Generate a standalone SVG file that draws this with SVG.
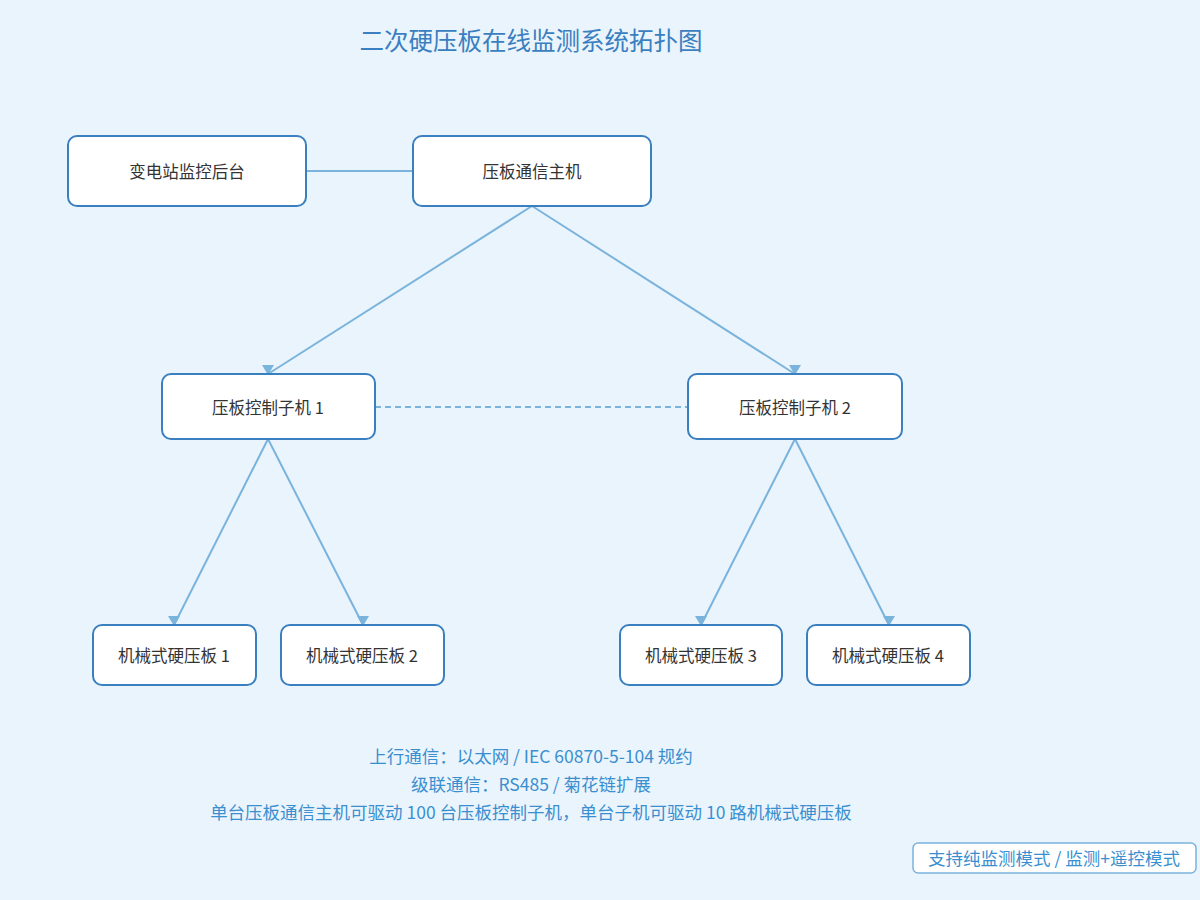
<svg xmlns="http://www.w3.org/2000/svg" width="1200" height="900" viewBox="0 0 1200 900">
<style>
text{font-family:"Noto Sans CJK SC","Liberation Sans",sans-serif;}
.n rect{fill:#fff;stroke:#3a7fc0;stroke-width:2;}
.n text{font-size:16.5px;fill:#333;text-anchor:middle;dominant-baseline:central;}
.e{stroke:#7ab3dc;stroke-width:2;fill:none;}
.note{font-size:17.5px;fill:#3a8fd0;text-anchor:middle;}
</style>
<defs><marker id="m" viewBox="0 0 12 10" refX="6" refY="9" markerWidth="12" markerHeight="10" markerUnits="userSpaceOnUse" orient="0"><path d="M0,0 L12,0 L6,10 Z" fill="#7ab3dc"/></marker></defs>
<rect width="1200" height="900" fill="#eaf4fc"/>
<text x="531" y="50" font-size="24.5" fill="#3a7fc0" text-anchor="middle">二次硬压板在线监测系统拓扑图</text>
<g id="edges">
<line class="e" x1="306" y1="171" x2="413" y2="171"/>
<line class="e" x1="532" y1="206" x2="268" y2="374" marker-end="url(#m)"/>
<line class="e" x1="532" y1="206" x2="795" y2="374" marker-end="url(#m)"/>
<line class="e" x1="375" y1="407" x2="688" y2="407" stroke-dasharray="6,4"/>
<line class="e" x1="268" y1="439" x2="174" y2="625" marker-end="url(#m)"/>
<line class="e" x1="268" y1="439" x2="363" y2="625" marker-end="url(#m)"/>
<line class="e" x1="795" y1="439" x2="701" y2="625" marker-end="url(#m)"/>
<line class="e" x1="795" y1="439" x2="889" y2="625" marker-end="url(#m)"/>
</g>
<g id="n1" class="n"><rect x="68" y="136" width="238" height="70" rx="9"/><text x="187" y="171">变电站监控后台</text></g>
<g id="n2" class="n"><rect x="413" y="136" width="238" height="70" rx="9"/><text x="532" y="171">压板通信主机</text></g>
<g id="n3" class="n"><rect x="162" y="374" width="213" height="65" rx="9"/><text x="268" y="407">压板控制子机 1</text></g>
<g id="n4" class="n"><rect x="688" y="374" width="214" height="65" rx="9"/><text x="795" y="407">压板控制子机 2</text></g>
<g id="n5" class="n"><rect x="93" y="625" width="163" height="60" rx="9"/><text x="174" y="655">机械式硬压板 1</text></g>
<g id="n6" class="n"><rect x="281" y="625" width="163" height="60" rx="9"/><text x="362" y="655">机械式硬压板 2</text></g>
<g id="n7" class="n"><rect x="620" y="625" width="162" height="60" rx="9"/><text x="701" y="655">机械式硬压板 3</text></g>
<g id="n8" class="n"><rect x="807" y="625" width="163" height="60" rx="9"/><text x="888" y="655">机械式硬压板 4</text></g>
<text class="note" x="531" y="763">上行通信：以太网 / IEC 60870-5-104 规约</text>
<text class="note" x="531" y="791">级联通信：RS485 / 菊花链扩展</text>
<text class="note" x="531" y="819">单台压板通信主机可驱动 100 台压板控制子机，单台子机可驱动 10 路机械式硬压板</text>
<g id="legend"><rect x="913" y="843" width="283" height="30" rx="5" fill="#fff" stroke="#7ab3dc" stroke-width="1.5"/><text class="note" x="1054" y="865">支持纯监测模式 / 监测+遥控模式</text></g>
</svg>
